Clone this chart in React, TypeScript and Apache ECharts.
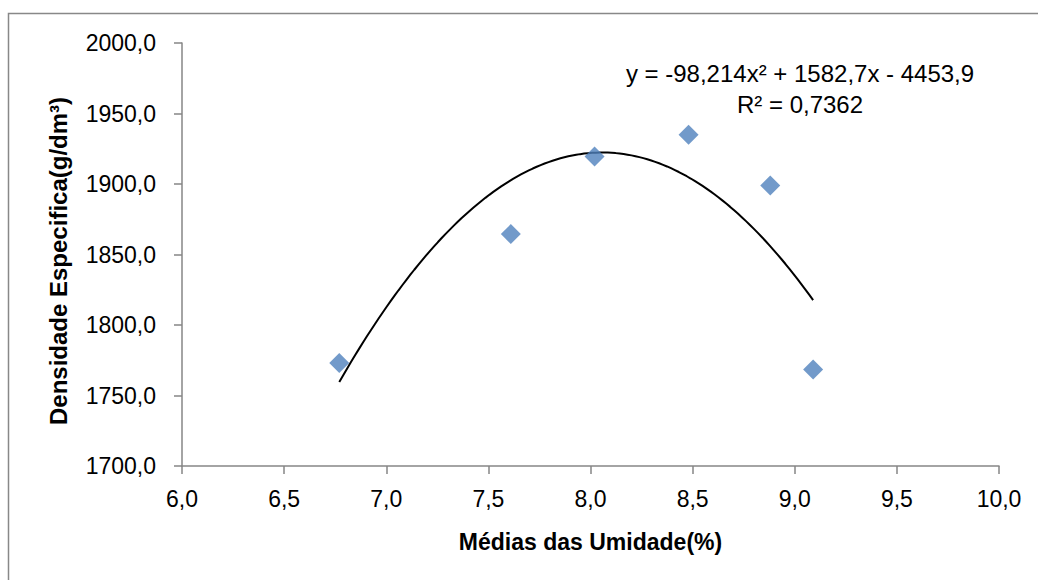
import React, { useEffect, useRef } from "react";
import * as echarts from "echarts";

const umidade = [6.77, 7.61, 8.02, 8.48, 8.88, 9.09];
const densidade = [1773.0, 1864.5, 1919.5, 1935.0, 1899.0, 1768.5];
// Trendline coefficients shown on the chart: y = a x² + b x + c
const trendCoeffs = [-98.214, 1582.7, -4453.9];
const equationText = "y = -98,214x² + 1582,7x - 4453,9";
const r2Text = "R² = 0,7362";
const xTitle = "Médias das Umidade(%)";
const yTitle = "Densidade Especifica(g/dm³)";

const FONT = "'Liberation Sans', Arial, sans-serif";

export default function App() {
  const ref = useRef<HTMLDivElement>(null);
  useEffect(() => {
    if (!ref.current) return;
    const chart = echarts.init(ref.current, null, { renderer: "svg" });
    const xMin = Math.min(...umidade);
    const xMax = Math.max(...umidade);
    const trend: number[][] = [];
    const n = 120;
    for (let i = 0; i <= n; i++) {
      const x = xMin + ((xMax - xMin) * i) / n;
      const y = trendCoeffs[0] * x * x + trendCoeffs[1] * x + trendCoeffs[2];
      trend.push([x, y]);
    }
    const fmt = (v: number) => v.toFixed(1).replace(".", ",");
    const axisColor = "#868686";
    chart.setOption({
      animation: false,
      backgroundColor: "#ffffff",
      grid: { left: 182, right: 39, top: 43, bottom: 114 },
      xAxis: {
        type: "value",
        min: 6,
        max: 10,
        interval: 0.5,
        name: xTitle,
        nameLocation: "middle",
        nameGap: 64,
        nameTextStyle: { fontFamily: FONT, fontSize: 23, fontWeight: "bold", color: "#000" },
        axisLine: { show: true, lineStyle: { color: axisColor, width: 1.5 } },
        axisTick: { show: true, length: 8, inside: false, lineStyle: { color: axisColor, width: 1.5 } },
        axisLabel: { formatter: fmt, fontFamily: FONT, fontSize: 23, color: "#000", margin: 21 },
        splitLine: { show: false },
      },
      yAxis: {
        type: "value",
        min: 1700,
        max: 2000,
        interval: 50,
        axisLine: { show: true, lineStyle: { color: axisColor, width: 1.5 } },
        axisTick: { show: true, length: 8, inside: false, lineStyle: { color: axisColor, width: 1.5 } },
        axisLabel: { formatter: fmt, fontFamily: FONT, fontSize: 23, color: "#000", margin: 26 },
        splitLine: { show: false },
      },
      graphic: [
        {
          type: "rect",
          shape: { x: 8.5, y: 13.5, width: 1100, height: 700 },
          style: { fill: "none", stroke: "#888888", lineWidth: 1.5 },
          silent: true,
          z: -10,
        },
        {
          type: "text",
          x: 58,
          y: 261,
          rotation: Math.PI / 2,
          style: {
            text: yTitle,
            fontFamily: FONT,
            fontSize: 24,
            fontWeight: "bold",
            fill: "#000",
            textAlign: "center",
            textVerticalAlign: "middle",
          },
        },
        {
          type: "text",
          x: 800,
          y: 73,
          style: {
            text: equationText,
            fontFamily: FONT,
            fontSize: 24,
            fill: "#000",
            textAlign: "center",
            textVerticalAlign: "middle",
          },
        },
        {
          type: "text",
          x: 800,
          y: 104,
          style: {
            text: r2Text,
            fontFamily: FONT,
            fontSize: 24,
            fill: "#000",
            textAlign: "center",
            textVerticalAlign: "middle",
          },
        },
      ],
      series: [
        {
          type: "line",
          data: trend,
          showSymbol: false,
          symbol: "none",
          lineStyle: { color: "#000", width: 2 },
          silent: true,
          z: 1,
        },
        {
          type: "scatter",
          data: umidade.map((x, i) => [x, densidade[i]]),
          symbol: "diamond",
          symbolSize: [20, 20],
          itemStyle: { color: "#4F81BD" },
          z: 2,
        },
      ],
    });
    return () => chart.dispose();
  }, []);
  return (
    <div
      ref={ref}
      style={{ position: "absolute", left: 0, top: 0, width: 1038, height: 580 }}
    />
  );
}
